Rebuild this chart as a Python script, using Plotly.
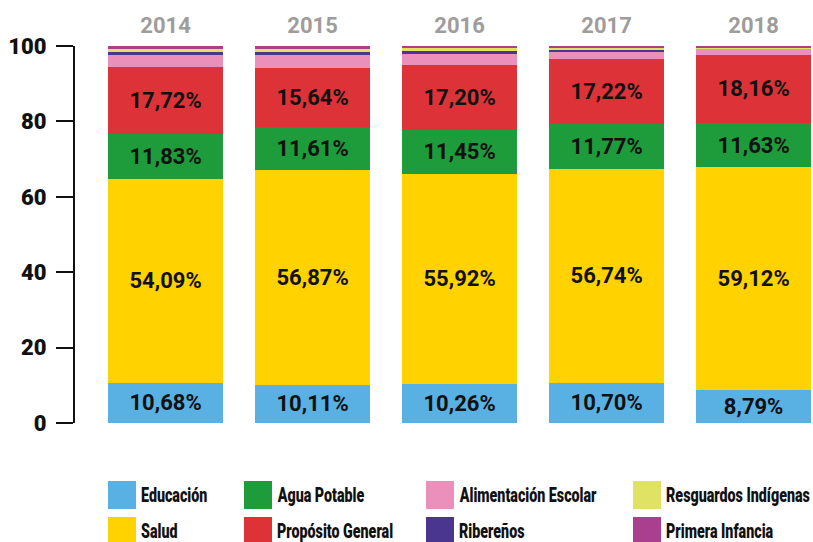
import plotly.graph_objects as go

# Share of each allocation per year (percent of total)
years = ["2014", "2015", "2016", "2017", "2018"]
educacion = [10.68, 10.11, 10.26, 10.70, 8.79]
salud = [54.09, 56.87, 55.92, 56.74, 59.12]
agua_potable = [11.83, 11.61, 11.45, 11.77, 11.63]
proposito_general = [17.72, 15.64, 17.20, 17.22, 18.16]
alimentacion_escolar = [3.38, 3.45, 3.10, 2.00, 1.60]
riberenos = [0.78, 0.78, 0.75, 0.55, 0.00]
resguardos_indigenas = [0.76, 0.76, 0.80, 0.50, 0.40]
primera_infancia = [0.76, 0.78, 0.52, 0.52, 0.30]

y_ticks = [0, 20, 40, 60, 80, 100]

series = [
    ("Educación", educacion, "#58b0e3", True),
    ("Salud", salud, "#ffd200", True),
    ("Agua Potable", agua_potable, "#1e9b3b", True),
    ("Propósito General", proposito_general, "#dd3338", True),
    ("Alimentación Escolar", alimentacion_escolar, "#eb8fbb", False),
    ("Ribereños", riberenos, "#4a368f", False),
    ("Resguardos Indígenas", resguardos_indigenas, "#dfe263", False),
    ("Primera Infancia", primera_infancia, "#ab3f8f", False),
]

# Legend grid: (column x px, row) in stacked order
legend_slots = {
    "Educación": (108, 0), "Agua Potable": (244, 0),
    "Alimentación Escolar": (426, 0), "Resguardos Indígenas": (633, 0),
    "Salud": (108, 1), "Propósito General": (244, 1),
    "Ribereños": (426, 1), "Primera Infancia": (633, 1),
}

W, H = 813, 542
ML, MT, MB = 75, 46, 119
x_idx = list(range(len(years)))

fig = go.Figure()
for name, vals, color, labelled in series:
    fig.add_trace(go.Bar(
        x=x_idx, y=vals, name=name,
        marker=dict(color=color, line=dict(width=0)),
        text=[f"{v:.2f}%".replace(".", ",") for v in vals] if labelled else None,
        textposition="inside" if labelled else "none",
        insidetextanchor="middle",
        textangle=0,
        constraintext="none",
        textfont=dict(family="Roboto", size=22, color="#111111", weight="bold"),
        showlegend=False,
        hoverinfo="skip",
    ))

shapes = []
annotations = []
row_y = [481, 517]
for name, vals, color, _ in series:
    px, row = legend_slots[name]
    py = row_y[row]
    shapes.append(dict(
        type="rect", xref="paper", yref="paper",
        x0=(px - ML) / (W - ML), x1=(px + 28 - ML) / (W - ML),
        y0=(H - MB - py - 28) / (H - MT - MB), y1=(H - MB - py) / (H - MT - MB),
        fillcolor=color, line=dict(width=0), layer="above",
    ))
    annotations.append(dict(
        xref="paper", yref="paper",
        x=(px + 31 - ML) / (W - ML), y=(H - MB - py - 14) / (H - MT - MB),
        xanchor="left", yanchor="middle", showarrow=False,
        text=name,
        font=dict(family="Roboto", size=21, color="#111111", weight=900),
    ))

fig.update_layout(
    width=W, height=H,
    margin=dict(l=ML, r=0, t=MT, b=MB),
    barmode="stack",
    bargap=0.218,
    plot_bgcolor="white",
    paper_bgcolor="white",
    shapes=shapes,
    annotations=annotations,
    xaxis=dict(
        side="top",
        range=[-0.616, 4.404],
        tickvals=x_idx, ticktext=years,
        tickfont=dict(family="Roboto", size=22, color="#a09c9a", weight="bold"),
        ticks="", showline=False, showgrid=False, zeroline=False,
        ticklabelstandoff=8,
    ),
    yaxis=dict(
        range=[0, 100],
        tickvals=y_ticks,
        tickfont=dict(family="Roboto", size=22, color="#111111", weight=900),
        ticks="outside", ticklen=17, tickwidth=2, tickcolor="#111111",
        showline=True, linewidth=2, linecolor="#111111",
        showgrid=False, zeroline=False,
        ticklabelstandoff=5,
    ),
)

# Legend labels use a condensed look: squeeze each label horizontally
# about its own left edge.
condense_js = """
var gd = document.getElementById('{plot_id}');
function condenseLegend() {
  gd.querySelectorAll('g.annotation text.annotation-text').forEach(function (t) {
    t.removeAttribute('transform');
    var b = t.getBBox();
    var x0 = b.x;
    t.setAttribute('transform',
      'translate(' + x0 + ',0) scale(0.68,1) translate(' + (-x0) + ',0)');
  });
}
condenseLegend();
gd.on('plotly_afterplot', condenseLegend);
"""

fig.write_html("out.html", post_script=condense_js)
